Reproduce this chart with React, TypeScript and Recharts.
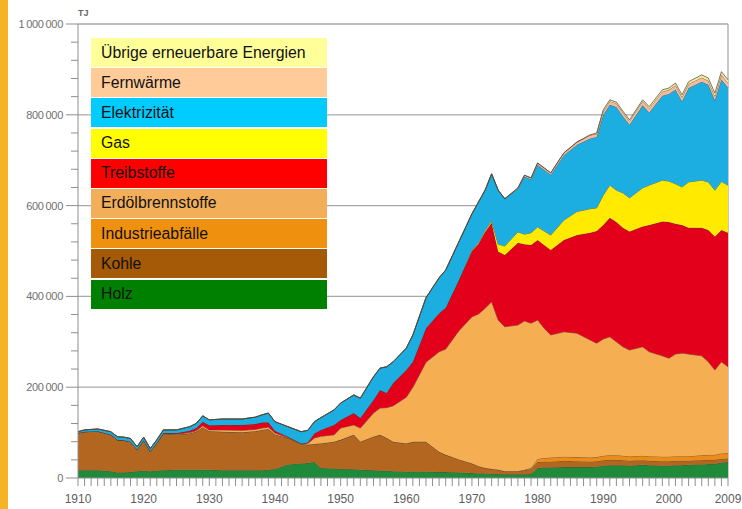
import React from "react";
import { AreaChart, Area, XAxis, YAxis, CartesianGrid } from "recharts";

// Endverbrauch nach Energieträgern, values in 1000 TJ
const years = [
  1910, 1911, 1913, 1915, 1916, 1917, 1918, 1919,
  1920, 1921, 1922, 1923, 1925, 1927, 1928, 1929,
  1930, 1932, 1935, 1937, 1938, 1939,
  1940, 1942, 1944, 1945, 1946, 1947, 1949,
  1950, 1952, 1953, 1955, 1956, 1957, 1958,
  1960, 1961, 1963, 1965, 1966, 1968,
  1970, 1971, 1972, 1973, 1974, 1975, 1977, 1978, 1979,
  1980, 1981, 1982, 1984, 1986, 1988, 1989,
  1990, 1991, 1992, 1993, 1994, 1996, 1997, 1999,
  2000, 2001, 2002, 2003, 2005, 2006, 2007, 2008, 2009,
];

const holz = [
  17, 17, 17, 15, 12, 12, 13, 15,
  16, 15, 16, 17, 18, 18, 18, 18,
  18, 17, 17, 17, 17, 18,
  20, 30, 32, 33, 35, 22, 21,
  20, 19, 18, 17, 16, 16, 15,
  14, 14, 14, 13, 13, 12,
  11, 10, 10, 9, 9, 8, 8, 8, 9,
  22, 23, 23, 24, 24, 24, 25,
  27, 28, 28, 28, 27, 29, 28, 27,
  27, 28, 28, 29, 30, 31, 31, 34, 35,
];

const kohle = [
  82, 85, 86, 81, 72, 71, 67, 48,
  67, 44, 61, 81, 78, 80, 84, 94,
  85, 85, 84, 86, 89, 90,
  76, 58, 43, 40, 40, 54, 59,
  64, 76, 62, 74, 79, 72, 65,
  62, 66, 66, 45, 38, 29,
  21, 16, 12, 11, 9, 7, 7, 9, 11,
  13, 13, 13, 14, 13, 12, 12,
  12, 12, 12, 11, 11, 10, 10, 10,
  10, 10, 10, 9, 9, 9, 9, 8, 8,
];

const industrie = [
  0, 0, 0, 0, 0, 0, 0, 0,
  0, 0, 0, 0, 0, 0, 0, 0,
  0, 0, 0, 0, 0, 0,
  0, 0, 0, 0, 0, 0, 0,
  0, 0, 0, 0, 0, 0, 0,
  0, 0, 0, 0, 0, 0,
  0, 0, 0, 0, 0, 0, 0, 1, 2,
  7, 8, 9, 9, 9, 9, 9,
  10, 10, 10, 10, 10, 10, 10, 10,
  10, 10, 10, 10, 11, 11, 11, 12, 12,
];

const erdoel = [
  0, 0, 0, 0, 0, 0, 0, 0,
  0, 0, 0, 0, 1, 2, 2, 3,
  3, 4, 4, 4, 4, 4,
  3, 1, 0.5, 3, 13, 16, 15,
  26, 22, 30, 52, 59, 67, 79,
  102, 120, 175, 220, 233, 283,
  323, 335, 352, 368, 330, 318, 322, 328, 319,
  306, 286, 270, 275, 273, 259, 251,
  257, 261, 250, 240, 234, 240, 230, 222,
  217, 225, 227, 225, 219, 205, 187, 202, 190,
];

const treibstoffe = [
  0, 0, 0, 0, 0, 0, 0, 0,
  0, 0, 0, 1, 2, 4, 6, 9,
  10, 11, 12, 12, 12, 11,
  5, 2, 0.5, 2, 10, 14, 22,
  18, 26, 22, 29, 40, 32, 50,
  60, 56, 75, 85, 91, 112,
  145, 155, 168, 174, 151, 158, 181, 169, 172,
  176, 183, 187, 202, 216, 236, 247,
  251, 262, 264, 262, 261, 265, 279, 296,
  300, 287, 282, 278, 282, 290, 294, 290, 295,
];

const gas = [
  0, 0, 0, 0, 0, 0, 0, 0,
  0, 0, 0, 0, 0, 0, 0, 0,
  0, 0, 0, 0, 0, 0,
  0, 0, 0, 0, 0, 0, 0,
  0, 0, 0, 0, 0, 0, 0,
  0, 0, 0, 0, 0, 0,
  2, 2, 3, 4, 16, 20, 24, 22, 27,
  29, 31, 33, 44, 52, 53, 51,
  66, 72, 70, 77, 74, 85, 88, 91,
  90, 88, 84, 101, 105, 106, 102, 107, 105,
];

const elektrizitaet = [
  3, 4, 5, 6, 7, 7, 7, 6,
  7, 6, 7, 7, 7, 9, 10, 13,
  12, 13, 13, 15, 17, 20,
  20, 22, 26, 27, 26, 27, 33,
  37, 40, 44, 51, 48, 58, 47,
  48, 59, 67, 78, 83, 84,
  80, 90, 89, 104, 119, 104, 95, 127, 118,
  137, 135, 133, 143, 147, 155, 156,
  177, 177, 183, 169, 161, 182, 160, 186,
  192, 208, 189, 207, 217, 214, 198, 225, 215,
];

const fernwaerme = [
  0, 0, 0, 0, 0, 0, 0, 0,
  0, 0, 0, 0, 0, 0, 0, 0,
  0, 0, 0, 0, 0, 0,
  0, 0, 0, 0, 0, 0, 0,
  0, 0, 0, 0, 0, 0, 0,
  0, 0, 0, 0, 0, 0,
  0, 0, 0, 0, 0, 0, 2, 3, 3,
  4, 4, 4, 5, 6, 7, 7,
  8, 8, 8, 8, 8, 9, 9, 9,
  9, 9, 9, 9, 9, 9, 9, 10, 10,
];

const uebrige = [
  0, 0, 0, 0, 0, 0, 0, 0,
  0, 0, 0, 0, 0, 0, 0, 0,
  0, 0, 0, 0, 0, 0,
  0, 0, 0, 0, 0, 0, 0,
  0, 0, 0, 0, 0, 0, 0,
  0, 0, 0, 0, 0, 0,
  0, 0, 0, 0, 0, 0, 0, 0, 0,
  0, 0, 0, 0, 0, 1, 2,
  3, 3, 3, 3, 3, 3, 4, 4,
  4, 5, 5, 5, 6, 6, 7, 7, 7,
];

const yearLabels = [1910, 1920, 1930, 1940, 1950, 1960, 1970, 1980, 1990, 2000, 2009];
const yMajor = [200000, 400000, 600000, 800000, 1000000];

// series, bottom to top (chart fill / legend swatch)
const series = [
  { key: "holz", name: "Holz", values: holz, fill: "#1f8a3a", swatch: "#008000" },
  { key: "kohle", name: "Kohle", values: kohle, fill: "#b2661f", swatch: "#a45a07" },
  { key: "industrie", name: "Industrieabfälle", values: industrie, fill: "#ec8c16", swatch: "#f0900f" },
  { key: "erdoel", name: "Erdölbrennstoffe", values: erdoel, fill: "#f5ae52", swatch: "#f3ae5a" },
  { key: "treib", name: "Treibstoffe", values: treibstoffe, fill: "#e2001a", swatch: "#ff0000" },
  { key: "gas", name: "Gas", values: gas, fill: "#ffea00", swatch: "#ffff00" },
  { key: "elek", name: "Elektrizität", values: elektrizitaet, fill: "#1caee0", swatch: "#00ccff" },
  { key: "fern", name: "Fernwärme", values: fernwaerme, fill: "#f6b9a0", swatch: "#ffcc99" },
  { key: "uebrig", name: "Übrige erneuerbare Energien", values: uebrige, fill: "#eeeea0", swatch: "#ffff99" },
];

const data = years.map((year, i) => {
  const row: Record<string, number> = { year };
  series.forEach((s) => {
    row[s.key] = s.values[i] * 1000;
  });
  return row;
});

const allYears = Array.from({ length: 100 }, (_, i) => 1910 + i);
const yTicks = Array.from({ length: 26 }, (_, i) => i * 40000);

const axisFont = "'Liberation Sans', Arial, sans-serif";

const fmt = (v: number) => String(v).replace(/\B(?=(\d{3})+(?!\d))/g, "\u2009");

const YTick = (props: any) => {
  const { x, y, payload } = props;
  const major = payload.value % 200000 === 0;
  return (
    <g>
      <line x1={x - (major ? 12 : 7)} x2={x} y1={y} y2={y} stroke="#8f8f8f" strokeWidth={1} />
      {major && (
        <text x={x - 15} y={y} dy={4} textAnchor="end" fontSize={11} fill="#707070" fontFamily={axisFont} letterSpacing={-0.3}>
          {fmt(payload.value)}
        </text>
      )}
    </g>
  );
};

const XTick = (props: any) => {
  const { x, y, payload } = props;
  const label = yearLabels.includes(payload.value);
  return (
    <g>
      <line x1={x} x2={x} y1={y} y2={y + 8} stroke="#8f8f8f" strokeWidth={1} />
      {label && (
        <text x={x} y={y + 25} textAnchor="middle" fontSize={12} fill="#5e5e5e" fontFamily={axisFont}>
          {payload.value}
        </text>
      )}
    </g>
  );
};

export default function App() {
  return (
    <div style={{ position: "absolute", left: 0, top: 0, width: 742, height: 509, background: "#fff", overflow: "hidden" }}>
      <div style={{ position: "absolute", left: 0, top: 0, width: 8, height: 509, background: "#f6b323" }} />
      <AreaChart width={742} height={509} data={data} margin={{ top: 24, right: 14, bottom: 0, left: 0 }}>
        <CartesianGrid
          horizontal
          vertical
          horizontalValues={yMajor}
          verticalValues={[2009]}
          stroke="#a9a9a9"
          strokeWidth={1.3}
        />
        <XAxis
          dataKey="year"
          type="number"
          domain={[1910, 2009]}
          ticks={allYears}
          interval={0}
          tickSize={0}
          tickMargin={0}
          tick={<XTick />}
          height={31}
          axisLine={{ stroke: "#8f8f8f" }}
        />
        <YAxis
          type="number"
          domain={[0, 1000000]}
          ticks={yTicks}
          interval={0}
          tickSize={0}
          tickMargin={0}
          tick={<YTick />}
          width={78}
          axisLine={{ stroke: "#8f8f8f" }}
          allowDataOverflow
        />
        {series.map((s) => (
          <Area
            key={s.key}
            type="linear"
            dataKey={s.key}
            name={s.name}
            stackId="1"
            fill={s.fill}
            fillOpacity={1}
            stroke="#4f4232"
            strokeWidth={0.7}
            isAnimationActive={false}
          />
        ))}
      </AreaChart>
      <div style={{ position: "absolute", left: 78, top: 8, fontSize: 9, fontWeight: "bold", color: "#666", fontFamily: axisFont }}>TJ</div>
      <div style={{ position: "absolute", left: 91, top: 38, width: 236 }}>
        {[...series].reverse().map((s) => (
          <div
            key={s.key}
            style={{
              height: 29,
              marginBottom: 1.2,
              background: s.swatch,
              display: "flex",
              alignItems: "center",
              paddingLeft: 10,
              fontFamily: "'Liberation Sans', Arial, sans-serif",
              fontSize: 15.8,
              color: "#111",
            }}
          >
            {s.name}
          </div>
        ))}
      </div>
    </div>
  );
}
